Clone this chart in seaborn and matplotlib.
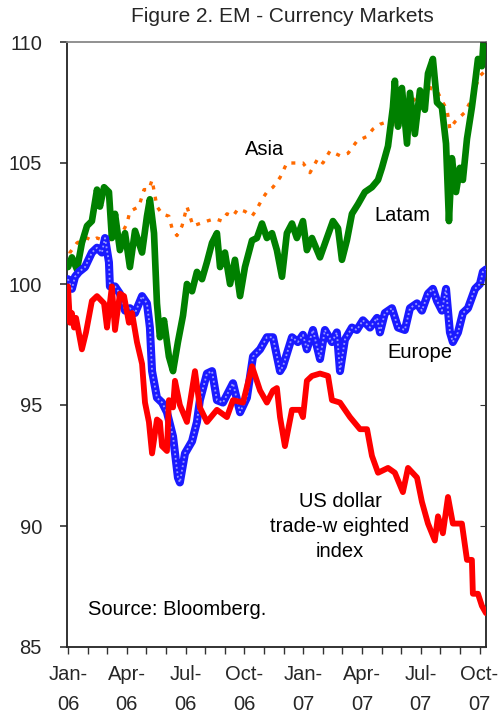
import matplotlib
matplotlib.use("Agg")
import matplotlib.pyplot as plt
import seaborn as sns
import numpy as np
from matplotlib.ticker import MultipleLocator

# x positions: months since start of Jan-2006
usd_x = [0.0, 0.10, 0.20, 0.31, 0.41, 0.71, 0.92, 1.22, 1.48, 1.84, 1.99, 2.24, 2.40, 2.65, 2.86,
         3.11, 3.27, 3.52, 3.78, 3.93, 4.13, 4.29, 4.54, 4.69, 4.80, 5.05, 5.15, 5.36, 5.46, 5.71,
         6.07, 6.48, 6.73, 7.09, 7.60, 8.11, 8.42, 8.93, 9.39, 9.80, 10.15, 10.46, 10.66, 10.82,
         11.07, 11.43, 11.84, 11.99, 12.19, 12.45, 12.86, 13.27, 13.47, 13.88, 14.39, 14.90, 15.26,
         15.51, 15.82, 16.33, 16.68, 17.09, 17.35, 17.81, 18.06, 18.37, 18.72, 18.88, 19.13, 19.39,
         19.64, 20.10, 20.36, 20.61, 20.66, 20.92, 21.12, 21.33]
usd_v = [99.9, 98.4, 98.8, 98.2, 98.6, 97.3, 98.0, 99.3, 99.5, 99.2, 98.2, 99.9, 98.1, 99.6, 99.5,
         98.4, 98.8, 97.6, 96.7, 95.1, 94.3, 93.0, 94.4, 94.3, 93.3, 93.1, 95.2, 94.9, 96.0, 95.0,
         94.3, 96.4, 94.9, 94.3, 94.8, 94.5, 95.2, 95.1, 96.6, 95.6, 95.1, 95.6, 95.7, 94.5,
         93.3, 94.8, 94.8, 94.5, 96.0, 96.2, 96.3, 96.2, 95.2, 95.1, 94.5, 94.0, 94.0,
         92.9, 92.2, 92.4, 92.2, 91.4, 92.4, 92.0, 91.0, 90.1, 89.4, 90.4, 89.7, 91.2,
         90.1, 90.1, 88.6, 88.6, 87.2, 87.2, 86.7, 86.4]

eur_x = [0.0, 0.20, 0.36, 0.56, 0.87, 1.22, 1.48, 1.73, 1.89, 2.09, 2.14, 2.40, 2.65, 2.91, 3.16,
         3.42, 3.78, 4.03, 4.18, 4.29, 4.54, 4.80, 5.05, 5.36, 5.61, 5.71, 5.97, 6.33, 6.58, 6.73,
         7.09, 7.35, 7.60, 7.91, 8.42, 8.78, 9.13, 9.44, 9.80, 10.15, 10.46, 10.82, 10.97, 11.43,
         11.73, 11.99, 12.19, 12.50, 12.86, 13.11, 13.47, 13.72, 13.88, 14.13, 14.49, 14.74, 15.05,
         15.41, 15.77, 15.92, 16.17, 16.53, 16.84, 17.19, 17.45, 17.81, 18.06, 18.37, 18.62, 18.83,
         19.08, 19.29, 19.49, 19.64, 19.90, 20.15, 20.41, 20.77, 21.02, 21.17, 21.33]
eur_v = [100.2, 99.8, 100.3, 100.5, 100.7, 101.3, 101.5, 101.3, 101.9, 100.9, 99.9, 99.9, 99.6, 98.9, 99.0,
         98.8, 99.5, 99.2, 98.2, 96.4, 95.3, 95.1, 94.7, 93.7, 92.0, 91.8, 93.0, 93.5, 94.3, 95.2,
         96.3, 96.4, 95.2, 95.1, 95.9, 94.7, 95.3, 97.0, 97.3, 97.8, 97.8, 96.4, 96.6, 97.8,
         97.6, 97.9, 97.3, 98.1, 96.9, 98.1, 97.6, 98.0, 96.4, 97.7, 98.2, 98.1, 98.5,
         98.2, 98.6, 98.0, 98.8, 99.0, 98.2, 98.1, 99.0, 99.2, 98.9, 99.6, 99.8, 99.3,
         98.9, 99.8, 98.0, 97.6, 98.0, 98.8, 99.0, 99.8, 100.0, 100.5, 100.6]

lat_x = [0.0, 0.20, 0.46, 0.71, 0.97, 1.22, 1.48, 1.63, 1.84, 2.09, 2.24, 2.40, 2.65, 2.91, 3.16,
         3.42, 3.78, 4.03, 4.18, 4.39, 4.54, 4.69, 4.90, 5.15, 5.36, 5.61, 5.87, 6.07, 6.33, 6.58,
         6.84, 7.09, 7.35, 7.60, 7.76, 8.01, 8.27, 8.52, 8.78, 9.03, 9.39, 9.64, 9.90, 10.15, 10.41,
         10.66, 10.92, 11.17, 11.43, 11.68, 11.99, 12.19, 12.45, 12.86, 13.21, 13.52, 13.78, 13.98,
         14.23, 14.49, 14.80, 15.15, 15.51, 15.82, 16.02, 16.33, 16.58, 16.68, 16.84, 17.04, 17.30,
         17.45, 17.70, 17.96, 18.21, 18.37, 18.62, 18.83, 19.08, 19.29, 19.44, 19.59, 19.80, 20.00,
         20.15, 20.36, 20.61, 20.77, 20.92, 21.12, 21.22, 21.33]
lat_v = [100.7, 101.1, 100.6, 101.7, 102.4, 102.6, 103.9, 103.2, 104.0, 103.8, 101.9, 102.9, 101.4, 102.1, 100.7,
         102.2, 101.3, 102.8, 103.5, 102.1, 99.2, 97.8, 98.5, 97.0, 96.4, 97.6, 98.7, 100.0, 99.7, 100.5,
         100.2, 100.9, 101.7, 102.1, 100.7, 101.3, 100.0, 101.0, 99.5, 100.7, 101.8, 101.9, 102.5, 101.9, 102.1,
         101.4, 100.3, 102.1, 102.5, 101.9, 102.6, 101.4, 101.9, 101.1, 101.9, 102.6, 102.3, 101.0,
         101.8, 102.9, 103.3, 103.8, 104.0, 104.3, 104.8, 105.7, 107.3, 108.4, 106.5, 108.1, 105.8,
         107.9, 106.2, 108.0, 107.2, 108.7, 109.3, 107.5, 107.3, 105.8, 102.6, 105.2, 103.8, 104.8,
         104.3, 106.0, 107.3, 108.3, 109.3, 109.0, 110.2, 110.0]

asia_x = [0.0, 0.10, 0.46, 0.71, 0.97, 1.22, 1.48, 1.84, 2.09, 2.40, 2.76, 3.01, 3.16, 3.62, 3.88,
          4.13, 4.29, 4.54, 4.80, 5.15, 5.31, 5.56, 5.82, 6.07, 6.38, 6.73, 7.09, 7.50, 7.86, 8.11,
          8.42, 8.67, 9.03, 9.39, 9.64, 9.90, 10.15, 10.46, 10.82, 11.17, 11.68, 11.99, 12.35, 12.76,
          13.01, 13.37, 13.88, 14.29, 14.74, 15.26, 15.56, 15.92, 16.28, 16.68, 17.04, 17.35, 17.81,
          18.21, 18.47, 18.62, 18.88, 19.13, 19.34, 19.49, 19.74, 20.00, 20.26, 20.51, 20.77, 21.02, 21.28]
asia_v = [100.8, 101.3, 101.7, 101.8, 101.9, 101.8, 101.9, 101.8, 101.8, 102.1, 102.1, 102.5, 103.0, 103.2, 103.9,
          103.9, 104.3, 103.2, 102.9, 102.8, 102.3, 102.0, 102.4, 103.2, 102.4, 102.5, 102.6, 102.7, 102.6, 102.9,
          102.8, 103.1, 103.0, 102.8, 103.1, 103.5, 103.8, 104.0, 104.4, 105.0, 105.0, 105.0, 104.6, 105.2,
          105.0, 105.5, 105.3, 105.4, 105.9, 106.1, 106.4, 106.6, 106.7, 106.6, 106.9, 107.4, 107.7,
          107.7, 108.0, 108.4, 107.9, 107.5, 107.2, 106.4, 106.7, 106.9, 107.1, 107.5, 108.1, 108.6, 108.8]

tick_labels = ["Jan-\n06", "Apr-\n06", "Jul-\n06", "Oct-\n06", "Jan-\n07", "Apr-\n07", "Jul-\n07", "Oct-\n07"]
y_ticks = [85, 90, 95, 100, 105, 110]

sns.set_style("white")
plt.rcParams['font.family'] = ['Liberation Sans', 'DejaVu Sans']

fig = plt.figure(figsize=(5.02, 7.17), dpi=100)
ax = fig.add_axes([67/502, 70/717, (486-67)/502, (647-42)/717])

sns.lineplot(x=asia_x, y=asia_v, ax=ax, color='#ff6a00', linewidth=2.4,
             linestyle=(0, (1.2, 2.2)), zorder=2)
sns.lineplot(x=lat_x, y=lat_v, ax=ax, color='#008000', linewidth=4.8, zorder=3)
sns.lineplot(x=eur_x, y=eur_v, ax=ax, color='#1a1aff', linewidth=5.8, zorder=4)
sns.lineplot(x=eur_x, y=eur_v, ax=ax, color='#9a9aff', linewidth=1.3,
             linestyle=(0, (1, 1.5)), zorder=5)
sns.lineplot(x=usd_x, y=usd_v, ax=ax, color='#ff0000', linewidth=4.2, zorder=6)

ax.set_xlim(-0.05, 21.33)
ax.set_ylim(85, 110)
ax.set_yticks(y_ticks)
ax.set_yticklabels([str(v) for v in y_ticks], fontsize=14.5)
ax.set_xticks(range(0, 22, 3))
ax.set_xticklabels(tick_labels, fontsize=14.5, linespacing=1.7)
ax.xaxis.set_minor_locator(MultipleLocator(1))
ax.tick_params(axis='y', which='major', left=True, direction='out', length=5, width=1.2,
               color='#333333', pad=13)
ax.tick_params(axis='x', which='both', bottom=True, direction='out', length=5, width=1.0,
               color='#333333', pad=8)

for s in ['left', 'bottom', 'right']:
    ax.spines[s].set_color('#222222')
    ax.spines[s].set_linewidth(1.3)
ax.spines['top'].set_color('#888888')
ax.spines['top'].set_linewidth(1.3)

ax2 = ax.twinx()
ax2.set_ylim(85, 110)
ax2.set_yticks(y_ticks)
ax2.set_yticklabels([])
ax2.tick_params(axis='y', direction='in', length=4, color='#333333')
for s in ax2.spines.values():
    s.set_visible(False)

tkw = dict(fontsize=14.5, color='black')
ax.text(10.05, 105.54, "Asia", ha='center', va='center', **tkw)
ax.text(17.04, 102.85, "Latam", ha='center', va='center', **tkw)
ax.text(17.96, 97.19, "Europe", ha='center', va='center', **tkw)
ax.text(13.88, 89.96, "US dollar\ntrade-w eighted\nindex", ha='center', va='center',
        linespacing=1.4, **tkw)
ax.text(1.02, 86.57, "Source: Bloomberg.", ha='left', va='center', **tkw)

fig.text(282/502, 1 - 17/717, "Figure 2. EM - Currency Markets", ha='center', va='center', fontsize=15)

fig.savefig("out.png", dpi=100)
